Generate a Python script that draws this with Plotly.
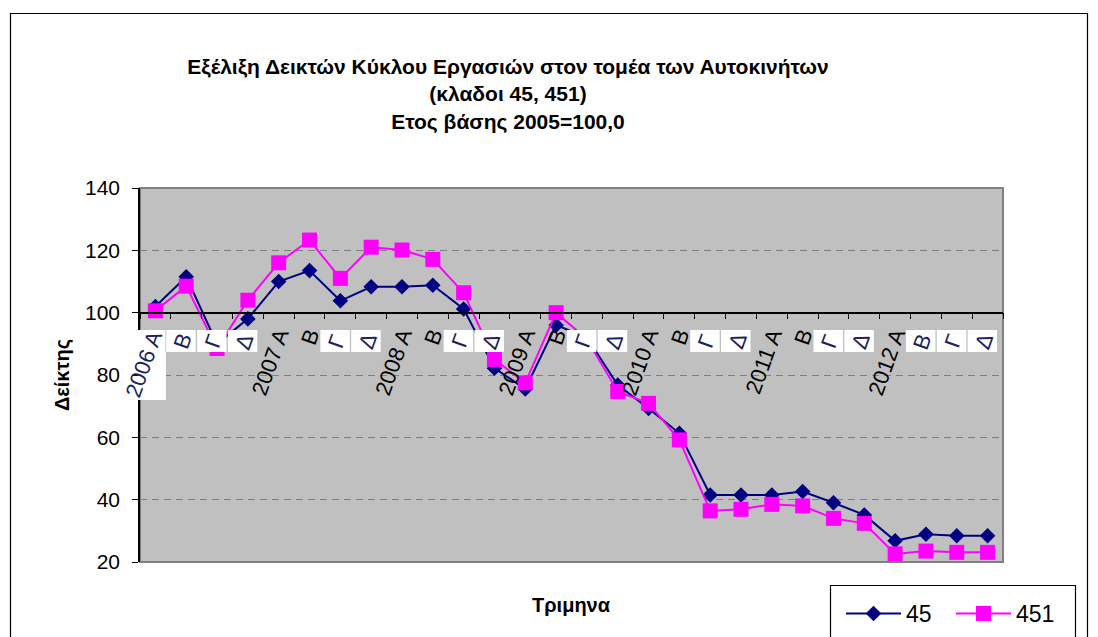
import plotly.graph_objects as go

# ---- data ----
periods = [f"{y} Q{q}" for y in range(2006, 2013) for q in range(1, 5)]
tick_labels = ["2006 Α", "Β", "Γ", "Δ",
               "2007 Α", "Β", "Γ", "Δ",
               "2008 Α", "Β", "Γ", "Δ",
               "2009 Α", "Β", "Γ", "Δ",
               "2010 Α", "Β", "Γ", "Δ",
               "2011 Α", "Β", "Γ", "Δ",
               "2012 Α", "Β", "Γ", "Δ"]
series_45 = [102.0, 111.5, 90.0, 98.0, 110.0, 113.5, 103.8, 108.3,
             108.3, 108.8, 101.2, 82.2, 75.5, 96.0, 92.0, 76.8,
             69.3, 61.3, 41.5, 41.5, 41.5, 42.6, 39.0, 35.1,
             26.8, 28.9, 28.4, 28.4]
series_451 = [100.6, 108.5, 88.5, 104.0, 116.0, 123.3, 111.0, 121.0,
              120.1, 117.1, 106.4, 85.0, 77.5, 100.0, 91.5, 74.7,
              70.9, 59.2, 36.4, 36.9, 38.5, 38.0, 34.0, 32.4,
              22.6, 23.5, 23.1, 23.1]
name_45 = "45"
name_451 = "451"
title_lines = ["Εξέλιξη Δεικτών Κύκλου Εργασιών στον τομέα των Αυτοκινήτων",
               "(κλαδοι 45, 451)",
               "Ετος βάσης 2005=100,0"]
y_title = "Δείκτης"
x_title = "Τριμηνα"
y_min, y_max, y_step = 20, 140, 20
x_axis_cross = 100
# labels that the original rendered inside white boxes
boxed = [0, 1] + [i for i in range(len(periods)) if i % 4 in (2, 3)] + [25]

FONT = "Liberation Sans, Arial, sans-serif"
OFF = 8  # page body margin
W, H = 1098, 637
PL, PR, PT, PB = 140, 1003, 188, 562  # plot area in screen px
L, T = PL - OFF, PT - OFF
R, B = W - (PR - OFF), H - (PB - OFF)
PW, PH = PR - PL, PB - PT
N = len(periods)


def px_x(p):
    return (p - PL) / PW


def px_y(p):
    return (PB - p) / PH


def cat_px(i):
    return PL + (i + 0.5) * PW / N


fig = go.Figure()
fig.add_trace(go.Scatter(
    x=periods, y=series_45, name=name_45, mode="lines+markers",
    line=dict(color="#000080", width=2),
    marker=dict(symbol="diamond", size=12, color="#000080",
                line=dict(width=0)),
))
fig.add_trace(go.Scatter(
    x=periods, y=series_451, name=name_451, mode="lines+markers",
    line=dict(color="#FF00FF", width=2),
    marker=dict(symbol="square", size=15, color="#FF00FF",
                line=dict(width=0)),
))

title_text = "<br>".join(f"<b>{t}</b>" for t in title_lines)
ticktext = ["" if i in boxed else t for i, t in enumerate(tick_labels)]

shapes = [
    # plot-area border
    dict(type="rect", xref="paper", yref="paper", x0=0, x1=1, y0=0, y1=1,
         line=dict(color="#808080", width=2), layer="below"),
    # outer chart frame
    dict(type="rect", xref="paper", yref="paper",
         x0=px_x(10.5), x1=px_x(1087.5), y0=px_y(690), y1=px_y(13.5),
         line=dict(color="black", width=1.2)),
    # legend frame
    dict(type="rect", xref="paper", yref="paper",
         x0=px_x(830.5), x1=px_x(1075.5), y0=px_y(690), y1=px_y(585.5),
         line=dict(color="black", width=1.2)),
]
annotations = [
    dict(text=f"<b>{x_title}</b>", xref="paper", yref="paper",
         x=0.5, y=px_y(605), xanchor="center", yanchor="middle",
         showarrow=False, font=dict(family=FONT, size=20, color="black")),
]
axis_px = PB - (x_axis_cross - y_min) / (y_max - y_min) * PH
for i in boxed:
    c = cat_px(i)
    if i == 0:
        boxes = [(c - 17.5, 330, c + 10, 352), (c - 17.5, 352, c + 10.5, 400)]
        dx, dy = -12, 364
    else:
        boxes = [(c - 20, 330, c + 9.5, 352)]
        dx, dy = -4, 341
    for (x0, y0, x1, y1) in boxes:
        shapes.append(dict(type="rect", xref="paper", yref="paper",
                           x0=px_x(x0), x1=px_x(x1), y0=px_y(y1), y1=px_y(y0),
                           line=dict(width=0), fillcolor="white", layer="above"))
    annotations.append(dict(
        text=tick_labels[i], xref="x", yref="y", x=periods[i], y=x_axis_cross,
        xshift=dx, yshift=-(dy - axis_px), xanchor="center", yanchor="middle",
        textangle=-70, showarrow=False,
        font=dict(family=FONT, size=22, color="#202060")))

fig.update_layout(
    width=W, height=H,
    margin=dict(l=L, r=R, t=T, b=B, autoexpand=False),
    paper_bgcolor="white",
    plot_bgcolor="#C0C0C0",
    font=dict(family=FONT, color="black", size=20),
    title=dict(text=title_text, x=(508 - OFF) / W, xref="container",
               xanchor="center",
               y=1 - (74 - OFF) / H, yref="container", yanchor="top",
               font=dict(family=FONT, size=21, color="black")),
    showlegend=True,
    legend=dict(orientation="h", x=px_x(841), y=px_y(592),
                xanchor="left", yanchor="top",
                bgcolor="rgba(0,0,0,0)", borderwidth=0,
                font=dict(family=FONT, size=23, color="black"),
                itemwidth=55, entrywidth=40, tracegroupgap=0),
    xaxis=dict(
        type="category", categoryorder="array", categoryarray=periods,
        range=[-0.5, N - 0.5],
        tickmode="array", tickvals=periods, ticktext=ticktext,
        tickson="boundaries",
        anchor="free", position=(x_axis_cross - y_min) / (y_max - y_min),
        showline=True, linecolor="black", linewidth=1.5,
        ticks="outside", ticklen=6, tickcolor="black", tickwidth=1,
        tickangle=-70, showgrid=False, zeroline=False,
        tickfont=dict(family=FONT, size=22, color="black"),
        automargin=False,
    ),
    yaxis=dict(
        range=[y_min, y_max], dtick=y_step, tick0=y_min,
        showline=True, linecolor="black", linewidth=1.5,
        ticks="outside", ticklen=6, tickcolor="black",
        showgrid=True, gridcolor="#808080", gridwidth=1, griddash="7px,5px",
        zeroline=False,
        tickfont=dict(family=FONT, size=21, color="black"),
        ticklabelstandoff=8,
        title=dict(text=f"<b>{y_title}</b>", standoff=10,
                   font=dict(family=FONT, size=20, color="black")),
        automargin=False,
    ),
    shapes=shapes,
    annotations=annotations,
)

fig.write_html("out.html")
